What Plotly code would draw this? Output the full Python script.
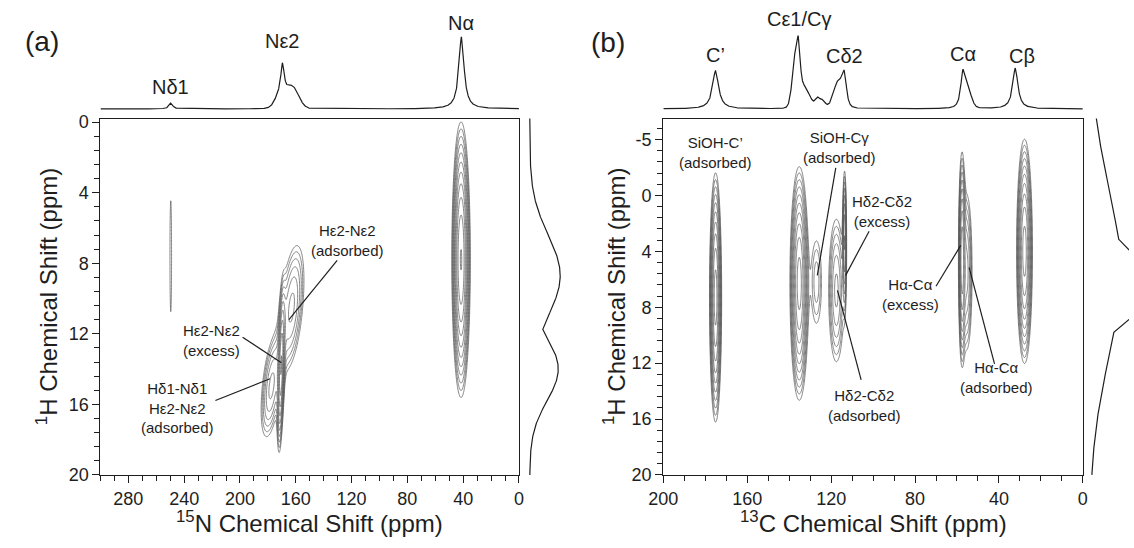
import numpy as np
import plotly.graph_objects as go

W, H = 1134, 548
FONT = "Liberation Sans, Arial, Helvetica, sans-serif"
INK = "#1e1e1e"
CONT = "#5a5a5a"

# ---------------- Panel (a): 1H-15N ----------------
# 1D 15N spectrum (top trace): peak list
n15_ppm    = [249.5, 169.5, 171.5, 162.5, 41.2]
n15_height = [18, 90, 35, 65, 218]
n15_width  = [3.0, 3.0, 3.5, 4.5, 4.5]      # FWHM (L) or sigma (G), ppm
n15_shape  = ["L", "L", "G", "G", "L"]
n15_labels    = ["Nδ1", "Nε2", "Nα"]
n15_label_ppm = [249.5, 170.0, 41.5]

# 2D 1H-15N cross peaks
hn_n_ppm = [249.6, 41.5, 163.0, 170.5, 177.5]
hn_h_ppm = [7.6, 7.8, 10.5, 14.0, 15.0]
hn_n_sig = [1.2, 2.9, 4.8, 1.2, 3.9]
hn_h_sig = [6.6, 3.4, 2.1, 2.25, 1.7]
hn_amp   = [1.12, 14.0, 4.0, 9.0, 4.0]
hn_tilt  = [0.0, 0.0, 1.1, 0.3, 1.2]

# 1H projection (right trace) of panel (a)
h1a_ppm = [8.7, 14.0]
h1a_amp = [31, 29]
h1a_sig = [2.3, 1.8]

# ---------------- Panel (b): 1H-13C ----------------
c13_ppm    = [175.1, 135.5, 137.0, 132.5, 126.3, 123.8, 125.5, 117.0, 113.6, 114.5, 57.2, 55.0, 32.2]
c13_height = [115, 110, 140, 55, 12, 8, 22, 70, 78, 25, 95, 50, 123]
c13_width  = [3.5, 2.0, 1.5, 2.2, 0.8, 0.8, 2.5, 2.0, 2.2, 1.5, 2.5, 1.8, 3.0]
c13_shape  = ["L", "L", "G", "G", "G", "G", "G", "G", "L", "G", "L", "G", "L"]
c13_labels    = ["C’", "Cε1/Cγ", "Cδ2", "Cα", "Cβ"]
c13_label_ppm = [175.1, 135.5, 113.6, 57.2, 29.0]

hc_c_ppm = [175.1, 135.2, 127.0, 113.6, 117.5, 57.6, 55.3, 27.8]
hc_h_ppm = [7.3, 6.3, 6.2, 3.2, 6.8, 4.5, 5.5, 4.0]
hc_c_sig = [1.3, 2.0, 2.0, 0.5, 2.2, 0.8, 1.5, 1.7]
hc_h_sig = [4.0, 3.75, 2.5, 2.6, 3.06, 3.6, 3.3, 3.6]
hc_amp   = [12.0, 12.0, 2.0, 6.0, 4.0, 9.0, 4.0, 12.0]
hc_tilt  = [0.0, 0.0, 0.0, 0.0, 0.0, 0.0, 0.0, 0.0]

h1b_ppm = [5.5, 6.3]
h1b_amp = [31, 70]
h1b_sig = [6.3, 2.4]

# y tick labels of panel (b) as printed
b_ytickvals = [-4, 0, 4, 8, 12, 16, 20]
b_yticktext = ["-5", "0", "4", "8", "12", "16", "20"]

# ---------------- geometry (pixels) ----------------
A_X0, A_X1 = 87, 513
B_X0, B_X1 = 660, 1087
M_Y0, M_Y1 = 116, 483
T_Y0, T_Y1 = 8, 112
BASE = 106
PXU = 0.34            # px per intensity unit of top traces
PA_X0, PA_X1, PA_BASE = 517, 568, 524
PB_X0, PB_X1, PB_BASE = 1090, 1134, 1094
LEVEL = 1.3


def fx(px):
    return px / W


def fy(px):
    return 1 - px / H


def spectrum(x, cs, hs, ws, ss):
    y = np.zeros_like(x)
    for c, h, w, s in zip(cs, hs, ws, ss):
        if s == "L":
            y += h / (1 + ((x - c) / (w / 2)) ** 2)
        else:
            y += h * np.exp(-0.5 * ((x - c) / w) ** 2)
    return y


def skyline(y, cs, amps, sigs):
    return np.max([a * np.exp(-0.5 * ((y - c) / s) ** 2) for c, a, s in zip(cs, amps, sigs)], axis=0)


def plane(xg, yg, cx, cy, sx, sy, amp, tilt):
    X, Y = np.meshgrid(xg, yg)
    Z = np.zeros_like(X)
    for x0, y0, a0, b0, a, t in zip(cx, cy, sx, sy, amp, tilt):
        dx = X - x0 - t * (Y - y0)
        Z += a * np.exp(-0.5 * ((dx / a0) ** 2 + ((Y - y0) / b0) ** 2))
    lz = np.log(Z + 1e-9) / np.log(LEVEL)
    return np.round(np.clip(lz, -3, 20), 2)


fig = go.Figure()

# ---- panel (a) traces ----
xa = np.concatenate([np.arange(0, 245, 0.3), np.arange(245, 254.0, 0.05), np.arange(254, 300.01, 0.3)])
ya = np.arange(-0.3, 20.05, 0.08)
fig.add_trace(go.Contour(x=xa, y=ya, z=plane(xa, ya, hn_n_ppm, hn_h_ppm, hn_n_sig, hn_h_sig, hn_amp, hn_tilt),
                         contours=dict(start=0, end=14, size=1, coloring="lines"),
                         colorscale=[[0, CONT], [1, CONT]], showscale=False,
                         line=dict(width=0.75, smoothing=1), hoverinfo="skip",
                         xaxis="x", yaxis="y"))
x1d = np.arange(0, 300.01, 0.1)
fig.add_trace(go.Scatter(x=x1d, y=spectrum(x1d, n15_ppm, n15_height, n15_width, n15_shape),
                         mode="lines", line=dict(color=INK, width=1.2), hoverinfo="skip",
                         xaxis="x2", yaxis="y2"))
yp = np.arange(-0.3, 20.01, 0.05)
fig.add_trace(go.Scatter(x=skyline(yp, h1a_ppm, h1a_amp, h1a_sig), y=yp, mode="lines",
                         line=dict(color=INK, width=1.2), hoverinfo="skip", xaxis="x3", yaxis="y3"))

# ---- panel (b) traces ----
xb = np.arange(0, 200.01, 0.15)
yb = np.arange(-5.6, 20.05, 0.08)
fig.add_trace(go.Contour(x=xb, y=yb, z=plane(xb, yb, hc_c_ppm, hc_h_ppm, hc_c_sig, hc_h_sig, hc_amp, hc_tilt),
                         contours=dict(start=0, end=14, size=1, coloring="lines"),
                         colorscale=[[0, CONT], [1, CONT]], showscale=False,
                         line=dict(width=0.75, smoothing=1), hoverinfo="skip",
                         xaxis="x4", yaxis="y4"))
x1c = np.arange(0, 200.01, 0.1)
fig.add_trace(go.Scatter(x=x1c, y=spectrum(x1c, c13_ppm, c13_height, c13_width, c13_shape),
                         mode="lines", line=dict(color=INK, width=1.2), hoverinfo="skip",
                         xaxis="x5", yaxis="y5"))
ypb = np.arange(-5.6, 20.01, 0.05)
fig.add_trace(go.Scatter(x=skyline(ypb, h1b_ppm, h1b_amp, h1b_sig), y=ypb, mode="lines",
                         line=dict(color=INK, width=1.2), hoverinfo="skip", xaxis="x6", yaxis="y6"))

tickfont = dict(family=FONT, size=18, color=INK)
main_common = dict(showline=True, mirror=True, linecolor=INK, linewidth=1.3, showgrid=False,
                   zeroline=False, ticks="outside", ticklen=7, tickwidth=1.2, tickcolor=INK,
                   tickfont=tickfont)
hidden = dict(visible=False, showgrid=False, zeroline=False)

top_range = [-(T_Y1 - BASE) / PXU, (BASE - T_Y0) / PXU]

fig.update_layout(
    width=W, height=H, autosize=False, margin=dict(l=0, r=0, t=0, b=0),
    paper_bgcolor="white", plot_bgcolor="white", showlegend=False,
    font=dict(family=FONT, color=INK),
    xaxis=dict(domain=[fx(A_X0), fx(A_X1)], range=[300, 0], tick0=0, dtick=40,
               minor=dict(dtick=10, tick0=0, ticks="outside", ticklen=5, tickcolor=INK, tickwidth=1.1),
               anchor="y", **main_common),
    yaxis=dict(domain=[fy(M_Y1), fy(M_Y0)], range=[20, -0.2], tickvals=[0, 4, 8, 12, 16, 20],
               minor=dict(dtick=0.8, tick0=0, ticks="outside", ticklen=5, tickcolor=INK, tickwidth=1.1),
               anchor="x", **main_common),
    xaxis2=dict(domain=[fx(A_X0), fx(A_X1)], range=[300, 0], anchor="y2", **hidden),
    yaxis2=dict(domain=[fy(T_Y1), fy(T_Y0)], range=top_range, anchor="x2", **hidden),
    xaxis3=dict(domain=[fx(PA_X0), fx(PA_X1)], range=[PA_X0 - PA_BASE, PA_X1 - PA_BASE], anchor="y3", **hidden),
    yaxis3=dict(domain=[fy(M_Y1), fy(M_Y0)], range=[20, -0.2], anchor="x3", **hidden),
    xaxis4=dict(domain=[fx(B_X0), fx(B_X1)], range=[200, 0], tick0=0, dtick=40,
                minor=dict(dtick=10, tick0=0, ticks="outside", ticklen=5, tickcolor=INK, tickwidth=1.1),
                anchor="y4", **main_common),
    yaxis4=dict(domain=[fy(M_Y1), fy(M_Y0)], range=[20, -5.5], tickvals=b_ytickvals, ticktext=b_yticktext,
                minor=dict(dtick=0.8, tick0=0, ticks="outside", ticklen=5, tickcolor=INK, tickwidth=1.1),
                anchor="x4", **main_common),
    xaxis5=dict(domain=[fx(B_X0), fx(B_X1)], range=[200, 0], anchor="y5", **hidden),
    yaxis5=dict(domain=[fy(T_Y1), fy(T_Y0)], range=top_range, anchor="x5", **hidden),
    xaxis6=dict(domain=[fx(PB_X0), fx(PB_X1)], range=[PB_X0 - PB_BASE, PB_X1 - PB_BASE], anchor="y6", **hidden),
    yaxis6=dict(domain=[fy(M_Y1), fy(M_Y0)], range=[20, -5.5], anchor="x6", **hidden),
)

ann = []
shapes = []


def note(text, x, y, xref, yref, size, angle=0):
    ann.append(dict(text=text, x=x, y=y, xref=xref, yref=yref, showarrow=False,
                    xanchor="center", yanchor="middle", textangle=angle,
                    font=dict(size=size, family=FONT, color=INK)))


# panel letters
note("(a)", fx(27), fy(37), "paper", "paper", 28)
note("(b)", fx(604), fy(38), "paper", "paper", 28)

# peak labels on top traces
a_label_px = [83, 36, 18]
for t, p, py in zip(n15_labels, n15_label_ppm, a_label_px):
    note(t, p, fy(py), "x2", "paper", 20)
b_label_px = [50, 13, 52, 49, 51]
for t, p, py in zip(c13_labels, c13_label_ppm, b_label_px):
    note(t, p, fy(py), "x5", "paper", 20)

# axis titles
note("<sup>15</sup>N Chemical Shift (ppm)", fx((A_X0 + A_X1) / 2), fy(532), "paper", "paper", 24)
note("<sup>13</sup>C Chemical Shift (ppm)", fx((B_X0 + B_X1) / 2), fy(532), "paper", "paper", 24)
note("<sup>1</sup>H Chemical Shift (ppm)", fx(32), fy((M_Y0 + M_Y1) / 2), "paper", "paper", 24, -90)
note("<sup>1</sup>H Chemical Shift (ppm)", fx(610), fy((M_Y0 + M_Y1) / 2), "paper", "paper", 24, -90)

# in-plot assignments: (text, x ppm, y ppm)
a_notes = [("Hε2-Nε2<br>(adsorbed)", 122.6, 6.7),
           ("Hε2-Nε2<br>(excess)", 220.7, 12.4),
           ("Hδ1-Nδ1<br>Hε2-Nε2<br>(adsorbed)", 244.6, 16.2)]
a_leaders = [((130.3, 7.84), (164.9, 11.2)),
             ((198.1, 12.2), (170.3, 13.64)),
             ((217.6, 15.78), (178.5, 14.55))]
b_notes = [("SiOH-C’<br>(adsorbed)", 175.1, -3.07),
           ("SiOH-Cγ<br>(adsorbed)", 115.8, -3.4),
           ("Hδ2-Cδ2<br>(excess)", 95.6, 1.14),
           ("Hα-Cα<br>(excess)", 82.2, 7.1),
           ("Hα-Cα<br>(adsorbed)", 41.2, 13.0),
           ("Hδ2-Cδ2<br>(adsorbed)", 104.0, 15.0)]
b_leaders = [((117.8, -1.97), (126.6, 5.72)),
             ((101.9, 2.56), (113.1, 5.72)),
             ((70.0, 6.5), (58.2, 3.57)),
             ((42.1, 12.06), (54.2, 5.16)),
             ((105.7, 13.2), (117.0, 6.8))]

for notes, xr, yr in [(a_notes, "x", "y"), (b_notes, "x4", "y4")]:
    for t, x, y in notes:
        note(t, x, y, xr, yr, 15)
for leaders, xr, yr in [(a_leaders, "x", "y"), (b_leaders, "x4", "y4")]:
    for (x0, y0), (x1, y1) in leaders:
        shapes.append(dict(type="line", x0=x0, y0=y0, x1=x1, y1=y1, xref=xr, yref=yr,
                           line=dict(color=INK, width=1.2)))

fig.update_layout(annotations=ann, shapes=shapes)
fig.write_html("out.html", config={"displayModeBar": False},
               post_script="document.body.style.margin='0';document.body.style.overflow='hidden';")
